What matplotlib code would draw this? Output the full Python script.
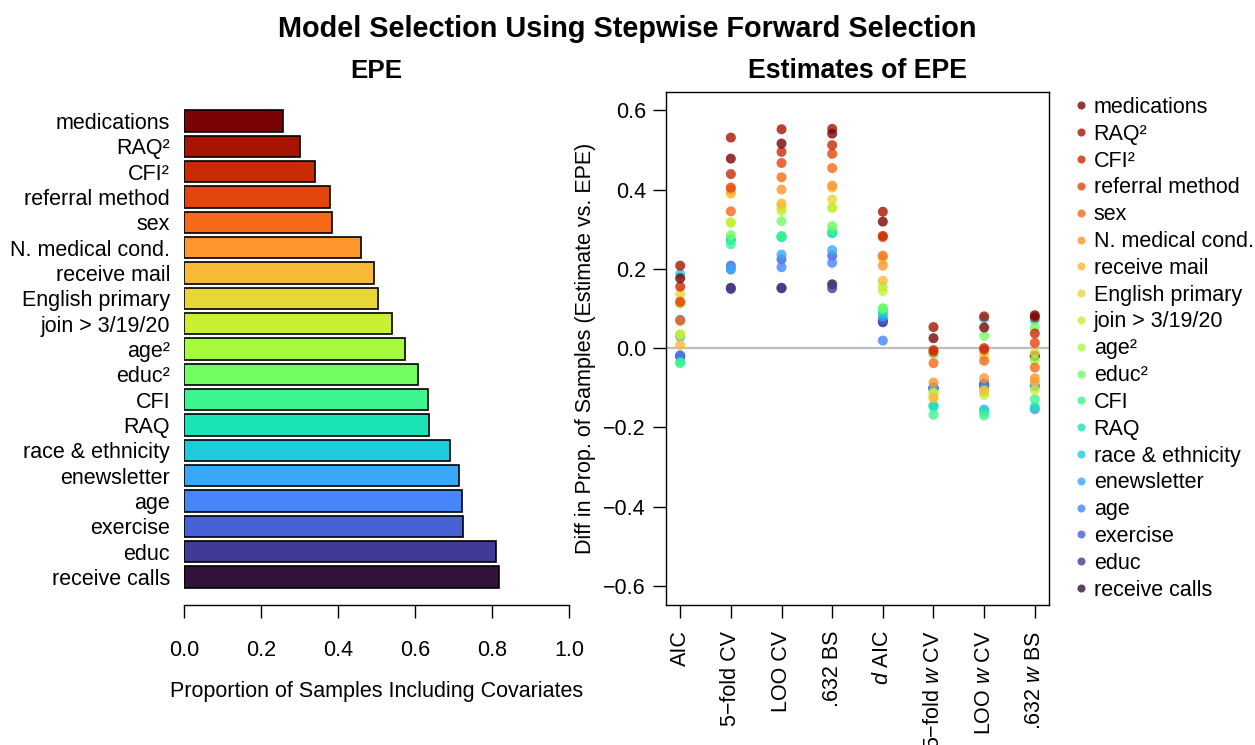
import numpy as np
import matplotlib
matplotlib.use("Agg")
import matplotlib.pyplot as plt
from matplotlib.lines import Line2D

plt.rcParams['font.family'] = ['Liberation Sans', 'DejaVu Sans']
plt.rcParams['mathtext.fontset'] = 'custom'
plt.rcParams['mathtext.rm'] = 'Liberation Sans'
plt.rcParams['mathtext.it'] = 'Liberation Sans:italic'

FS = 15.5

# covariates, top to bottom
covariates = ["medications", "RAQ²", "CFI²", "referral method", "sex",
              "N. medical cond.", "receive mail", "English primary",
              "join > 3/19/20", "age²", "educ²", "CFI", "RAQ",
              "race & ethnicity", "enewsletter", "age", "exercise", "educ",
              "receive calls"]

# proportion of samples including each covariate (EPE)
epe = [0.258, 0.302, 0.341, 0.378, 0.385, 0.461, 0.493, 0.505, 0.541, 0.573,
       0.609, 0.633, 0.637, 0.690, 0.714, 0.721, 0.725, 0.810, 0.817]

methods = ["AIC", "5−fold CV", "LOO CV", ".632 BS", r"$\mathit{d}$ AIC",
           r"5−fold $\mathit{w}$ CV", r"LOO $\mathit{w}$ CV", r".632 $\mathit{w}$ BS"]

# diff in proportion (estimate - EPE), one list per method, covariate order
aic = [0.176, 0.208, 0.155, 0.117, 0.069, 0.115, 0.008, 0.136, 0.034, 0.035,
       0.113, -0.038, -0.035, 0.187, 0.029, -0.018, 0.071, -0.020, -0.021]
cv5 = [0.478, 0.531, 0.439, 0.405, 0.345, 0.400, 0.390, 0.392, 0.318, 0.316,
       0.285, 0.262, 0.275, 0.272, 0.200, 0.198, 0.208, 0.149, 0.152]
loo = [0.516, 0.552, 0.495, 0.467, 0.431, 0.400, 0.365, 0.360, 0.346, 0.352,
       0.320, 0.283, 0.281, 0.280, 0.236, 0.204, 0.224, 0.151, 0.152]
bs632 = [0.541, 0.553, 0.512, 0.490, 0.454, 0.410, 0.405, 0.375, 0.354, 0.354,
         0.308, 0.296, 0.291, 0.290, 0.247, 0.215, 0.233, 0.151, 0.161]
daic = [0.319, 0.344, 0.283, 0.280, 0.233, 0.208, 0.170, 0.226, 0.144, 0.155,
        0.100, 0.100, 0.095, 0.088, 0.080, 0.019, 0.071, 0.065, 0.068]
wcv5 = [0.025, 0.053, -0.005, -0.010, -0.038, -0.087, -0.125, -0.125, -0.115, -0.113,
        -0.015, -0.168, -0.148, -0.145, -0.100, -0.105, -0.100, -0.100, -0.102]
wloo = [0.052, 0.080, 0.000, -0.005, -0.032, -0.076, -0.106, -0.020, -0.118, -0.110,
        0.031, -0.170, -0.160, 0.075, -0.155, -0.095, -0.089, -0.092, -0.095]
wbs632 = [0.083, 0.078, 0.037, 0.013, -0.049, -0.076, -0.085, -0.012, -0.106, -0.030,
          0.052, -0.129, -0.148, 0.071, -0.096, -0.154, -0.095, -0.020, -0.020]

diffs = np.array([aic, cv5, loo, bs632, daic, wcv5, wloo, wbs632]).T

n = len(covariates)
cols = plt.cm.turbo(np.linspace(1, 0, n))

W, H = 1255, 745
fig = plt.figure(figsize=(W / 100, H / 100), dpi=100)

# ---- left: bar plot ----
ax1 = fig.add_axes([184 / W, 1 - 605 / H, 385 / W, 513 / H])
ypos = np.arange(n)[::-1]
ax1.barh(ypos, epe, height=0.833, color=cols, edgecolor='black', linewidth=1.2)
ax1.set_xlim(0, 1)
ax1.set_ylim(-1.105, 19.145)
ax1.set_yticks(ypos, covariates, fontsize=FS)
ax1.tick_params(axis='y', length=0, pad=10)
ax1.set_xticks(np.arange(0, 1.01, 0.2), [f"{v:.1f}" for v in np.arange(0, 1.01, 0.2)])
ax1.tick_params(axis='x', length=9.4, width=1, labelsize=FS, pad=15.5)
for s in ['top', 'right', 'left']:
    ax1.spines[s].set_visible(False)
ax1.spines['bottom'].set_linewidth(1)
ax1.set_xlabel("Proportion of Samples Including Covariates", fontsize=FS)
ax1.xaxis.set_label_coords(0.5, -0.148)
ax1.set_title("EPE", fontsize=18.7, fontweight='bold', pad=10)

# ---- right: estimates ----
ax2 = fig.add_axes([666 / W, 1 - 605 / H, 383 / W, 513 / H])
ax2.axhline(0, color='#bebebe', lw=1.6, zorder=1)
xs = np.arange(1, len(methods) + 1)
# drawn from the last covariate up, so the reds sit on top
for i in range(n - 1, -1, -1):
    ax2.scatter(xs, diffs[i], s=52, color=cols[i], alpha=0.8, edgecolors='none', zorder=2)
ax2.set_xlim(0.72, 8.28)
ax2.set_ylim(-0.648, 0.646)
yt = np.arange(-0.6, 0.61, 0.2)
ax2.set_yticks(yt, [f"{v:.1f}".replace("-", "−") for v in yt])
ax2.set_xticks(xs, methods, rotation=90)
ax2.tick_params(axis='y', length=9.4, width=1, labelsize=FS, pad=5)
ax2.tick_params(axis='x', length=9.4, width=1, labelsize=FS, pad=9)
for s in ax2.spines.values():
    s.set_linewidth(1)
ax2.set_ylabel("Diff in Prop. of Samples (Estimate vs. EPE)", fontsize=FS)
ax2.yaxis.set_label_coords(-0.183, 0.5)
ax2.set_title("Estimates of EPE", fontsize=19.2, fontweight='bold', pad=10)

handles = [Line2D([], [], ls='none', marker='o', markersize=5.8, color=cols[i],
                  alpha=0.8, markeredgewidth=0) for i in range(n)]
fig.legend(handles, covariates, loc='upper left', bbox_to_anchor=(1070 / W, 1 - 97 / H),
           frameon=False, fontsize=FS, borderpad=0, borderaxespad=0,
           handlelength=1.0, handletextpad=0.1, labelspacing=0.27)

fig.text(0.5, 1 - 29 / H, "Model Selection Using Stepwise Forward Selection",
         ha='center', va='center', fontsize=20.8, fontweight='bold')

fig.savefig("out.png", dpi=100)
